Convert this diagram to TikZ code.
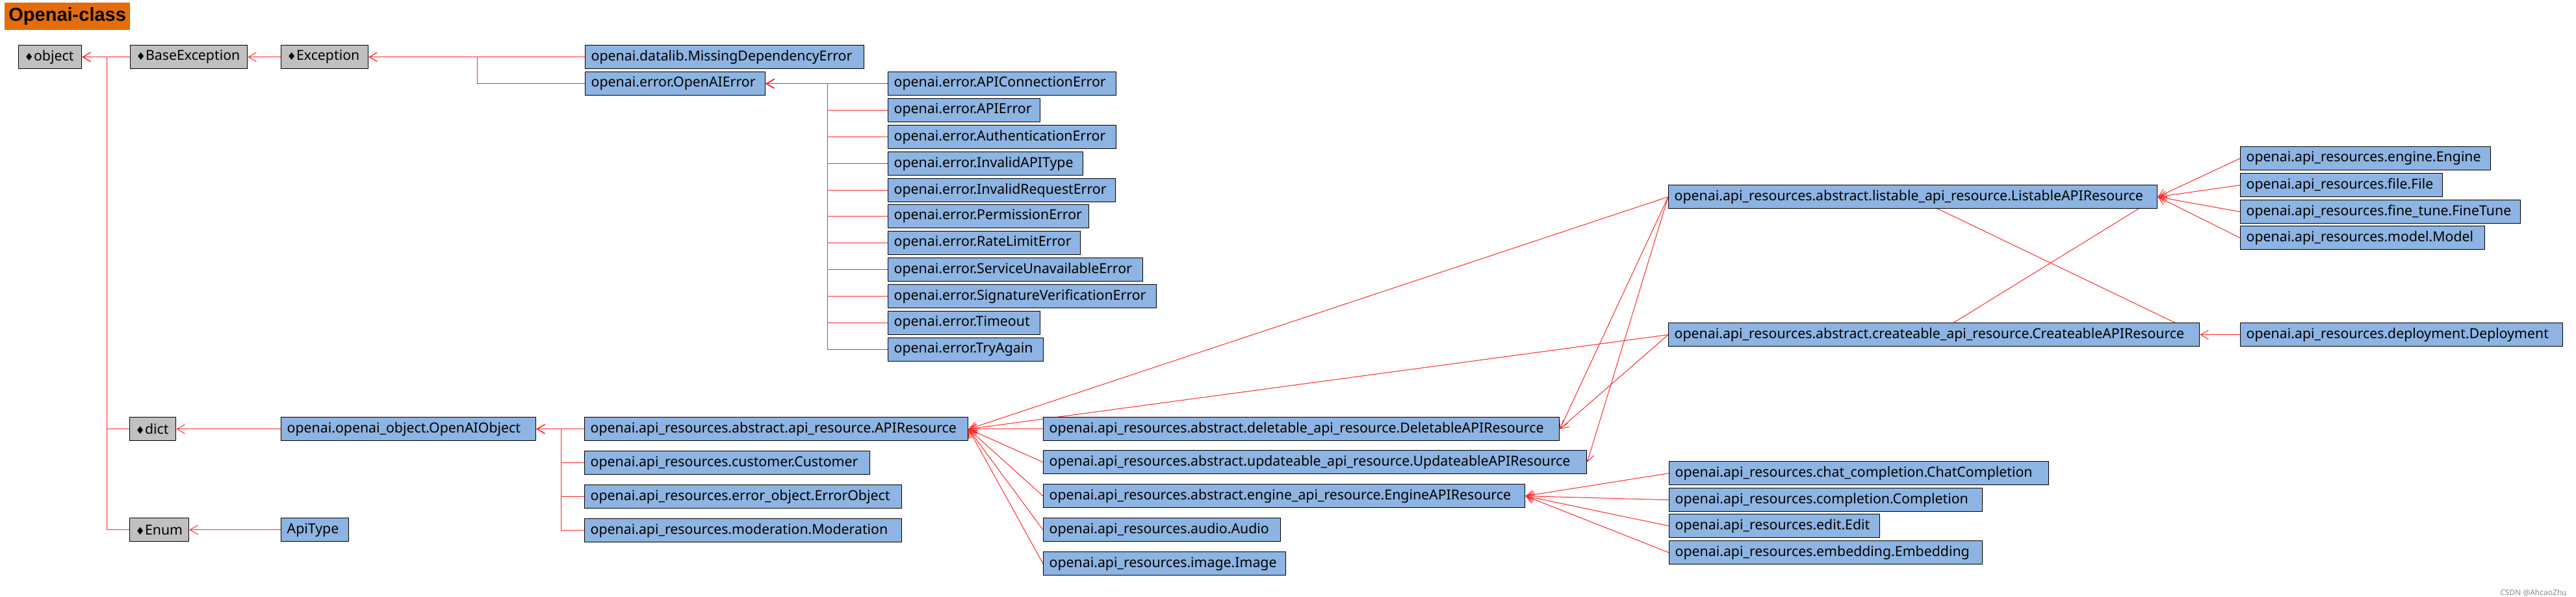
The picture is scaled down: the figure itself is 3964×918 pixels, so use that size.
\documentclass[tikz,border=0pt]{standalone}
\usepackage{fontspec}
\setmainfont{Noto Sans}
\newfontfamily\symfont{DejaVu Sans}
\newfontfamily\titlefont{Liberation Sans}
\usetikzlibrary{arrows.meta}
\pgfdeclarelayer{bg}
\pgfsetlayers{bg,main}
\definecolor{clsblue}{HTML}{8DB4E2}
\definecolor{clsgray}{HTML}{C0C0C0}
\definecolor{titleorange}{HTML}{E46C0A}
\definecolor{inhred}{HTML}{FF2828}
\tikzset{
  cls/.style={draw=black, line width=1.4pt, anchor=north west, inner xsep=9pt, inner ysep=0pt,
    minimum height=36pt, align=left, font=\fontsize{21.3}{23}\selectfont},
  bluecls/.style={cls, fill=clsblue},
  graycls/.style={cls, fill=clsgray},
  inh/.style={draw=inhred, line width=1pt, -{Straight Barb[length=12pt,width=14pt,line width=1pt]}},
}
\newcommand\classbox[6]{%
  \pgfmathsetmacro\tw{#5-18}%
  \node[#1, text width=\tw pt] (#2) at (#3,#4) {#6};}
\newcommand\dm{{\symfont\fontsize{16}{16}\selectfont ♦}}
\begin{document}
\begin{tikzpicture}[x=1pt, y=-1pt]
\begin{pgfonlayer}{bg}
\fill[white] (0,0) rectangle (3964,918);
\end{pgfonlayer}
\useasboundingbox (0,0) rectangle (3964,918);
% title
\node[fill=titleorange, anchor=north west, minimum width=193pt, minimum height=42pt, inner sep=0pt,
  font=\titlefont\bfseries\fontsize{29}{31}\selectfont] (title) at (7,4) {Openai-class};
% gray base classes
\classbox{graycls}{object}{28}{69}{97}{\dm object}
\classbox{graycls}{baseexc}{200}{69}{180}{\dm BaseException}
\classbox{graycls}{exc}{432}{69}{134}{\dm Exception}
\classbox{graycls}{dict}{199}{641}{71}{\dm dict}
\classbox{graycls}{enum}{199}{796}{91}{\dm Enum}
% errors
\classbox{bluecls}{missdep}{900}{69}{429}{openai.datalib.MissingDependencyError}
\classbox{bluecls}{oae}{900}{110}{277}{openai.error.OpenAIError}
\classbox{bluecls}{e1}{1366}{110}{351}{openai.error.APIConnectionError}
\classbox{bluecls}{e2}{1366}{151}{234}{openai.error.APIError}
\classbox{bluecls}{e3}{1366}{192}{351}{openai.error.AuthenticationError}
\classbox{bluecls}{e4}{1366}{233}{300}{openai.error.InvalidAPIType}
\classbox{bluecls}{e5}{1366}{274}{350}{openai.error.InvalidRequestError}
\classbox{bluecls}{e6}{1366}{314}{309}{openai.error.PermissionError}
\classbox{bluecls}{e7}{1366}{355}{296}{openai.error.RateLimitError}
\classbox{bluecls}{e8}{1366}{396}{392}{openai.error.ServiceUnavailableError}
\classbox{bluecls}{e9}{1366}{437}{413}{openai.error.SignatureVerificationError}
\classbox{bluecls}{e10}{1366}{478}{234}{openai.error.Timeout}
\classbox{bluecls}{e11}{1366}{519}{239}{openai.error.TryAgain}
% objects
\classbox{bluecls}{oao}{432}{641}{392}{openai.openai\_object.OpenAIObject}
\classbox{bluecls}{apitype}{432}{796}{104}{ApiType}
\classbox{bluecls}{apires}{899}{641}{590}{openai.api\_resources.abstract.api\_resource.APIResource}
\classbox{bluecls}{customer}{899}{693}{439}{openai.api\_resources.customer.Customer}
\classbox{bluecls}{errobj}{899}{745}{488}{openai.api\_resources.error\_object.ErrorObject}
\classbox{bluecls}{moder}{899}{797}{488}{openai.api\_resources.moderation.Moderation}
\classbox{bluecls}{delet}{1605}{641}{794}{openai.api\_resources.abstract.deletable\_api\_resource.DeletableAPIResource}
\classbox{bluecls}{updat}{1605}{692}{836}{openai.api\_resources.abstract.updateable\_api\_resource.UpdateableAPIResource}
\classbox{bluecls}{engres}{1605}{744}{741}{openai.api\_resources.abstract.engine\_api\_resource.EngineAPIResource}
\classbox{bluecls}{audio}{1605}{796}{365}{openai.api\_resources.audio.Audio}
\classbox{bluecls}{image}{1605}{848}{373}{openai.api\_resources.image.Image}
\classbox{bluecls}{chat}{2568}{709}{584}{openai.api\_resources.chat\_completion.ChatCompletion}
\classbox{bluecls}{compl}{2568}{750}{482}{openai.api\_resources.completion.Completion}
\classbox{bluecls}{edit}{2568}{790}{324}{openai.api\_resources.edit.Edit}
\classbox{bluecls}{embed}{2568}{831}{482}{openai.api\_resources.embedding.Embedding}
\classbox{bluecls}{listab}{2567}{284}{752}{openai.api\_resources.abstract.listable\_api\_resource.ListableAPIResource}
\classbox{bluecls}{creat}{2567}{496}{817}{openai.api\_resources.abstract.createable\_api\_resource.CreateableAPIResource}
\classbox{bluecls}{engine}{3447}{225}{385}{openai.api\_resources.engine.Engine}
\classbox{bluecls}{file}{3447}{266}{311}{openai.api\_resources.file.File}
\classbox{bluecls}{finetune}{3447}{307}{431}{openai.api\_resources.fine\_tune.FineTune}
\classbox{bluecls}{model}{3447}{347}{376}{openai.api\_resources.model.Model}
\classbox{bluecls}{deploy}{3447}{496}{496}{openai.api\_resources.deployment.Deployment}
% watermark
\node[anchor=east, text=black!45, inner sep=0pt, font=\fontsize{12}{12}\selectfont] (wm) at (3950,911) {CSDN @AhcaoZhu};
% junctions
\coordinate (jobj) at ([xshift=38pt]object.east);
\coordinate (jexc) at ([xshift=167pt]exc.east);
\coordinate (joae) at ([xshift=95pt]oae.east);
\coordinate (joao) at ([xshift=38pt]oao.east);
\begin{pgfonlayer}{bg}
\draw[inh] (baseexc.west) -- (object.east);
\draw[inh] (dict.west) -| (jobj) -- (object.east);
\draw[inh] (enum.west) -| (jobj) -- (object.east);
\draw[inh] (exc.west) -- (baseexc.east);
\draw[inh] (missdep.west) -| (jexc) -- (exc.east);
\draw[inh] (oae.west) -| (jexc) -- (exc.east);
\foreach \e in {e1,e2,e3,e4,e5,e6,e7,e8,e9,e10,e11}
  \draw[inh] (\e.west) -| (joae) -- (oae.east);
\draw[inh] (oao.west) -- (dict.east);
\draw[inh] (apitype.west) -- (enum.east);
\foreach \c in {apires,customer,errobj,moder}
  \draw[inh] (\c.west) -| (joao) -- (oao.east);
\foreach \c in {delet,updat,engres,audio,image,listab,creat}
  \draw[inh] (\c.west) -- (apires.east);
\draw[inh] (listab.west) -- (delet.east);
\draw[inh] (creat.west) -- (delet.east);
\draw[inh] (listab.west) -- (updat.east);
\foreach \c in {chat,compl,edit,embed}
  \draw[inh] (\c.west) -- (engres.east);
\foreach \c in {engine,file,finetune,model}
  \draw[inh] (\c.west) -- (listab.east);
\draw[inh] (creat.center) -- (listab.east);
\draw[inh] (listab.center) -- (creat.east);
\draw[inh] (deploy.west) -- (creat.east);
\end{pgfonlayer}
\end{tikzpicture}
\end{document}
